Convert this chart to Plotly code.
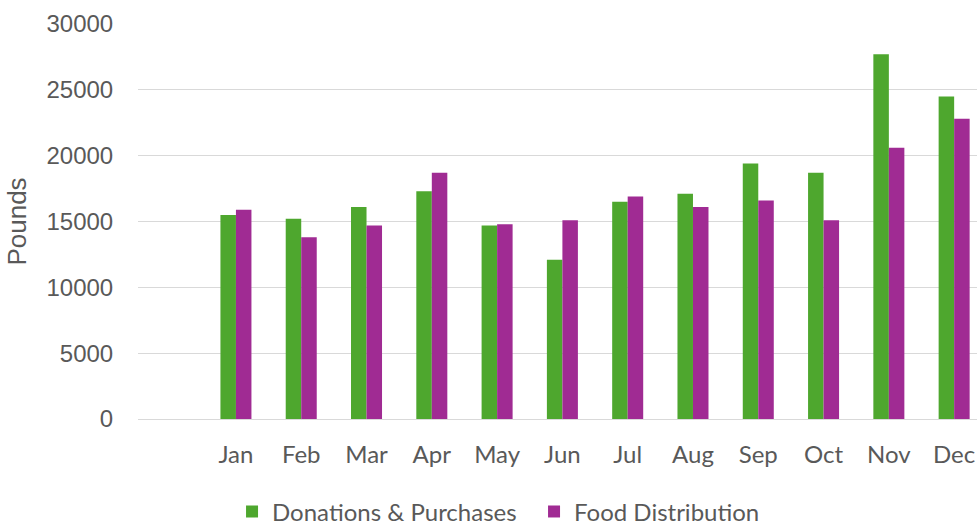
import plotly.graph_objects as go

months = ["\u200b", "Jan", "Feb", "Mar", "Apr", "May", "Jun", "Jul", "Aug", "Sep", "Oct", "Nov", "Dec"]
donations = [None, 15500, 15200, 16100, 17300, 14700, 12100, 16500, 17100, 19400, 18700, 27700, 24500]
distribution = [None, 15900, 13800, 14700, 18700, 14800, 15100, 16900, 16100, 16600, 15100, 20600, 22800]
y_ticks = [0, 5000, 10000, 15000, 20000, 25000, 30000]

GREEN = "#4EA72E"
PURPLE = "#A02B93"
LABEL_FONT = "Lato, sans-serif"
NUM_FONT = "Liberation Sans, Arial, sans-serif"

fig = go.Figure()
fig.add_trace(go.Bar(x=months, y=donations, name="Donations & Purchases",
                     marker=dict(color=GREEN, line=dict(width=0))))
fig.add_trace(go.Bar(x=months, y=distribution, name="Food Distribution",
                     marker=dict(color=PURPLE, line=dict(width=0))))

fig.update_layout(
    width=977, height=525,
    margin=dict(l=138, r=0, t=24, b=106),
    paper_bgcolor="white", plot_bgcolor="white",
    barmode="group", bargap=0.525, bargroupgap=0,
    showlegend=True,
    legend=dict(orientation="h", xref="container", yref="container",
                x=0.2375, y=0.025, xanchor="left", yanchor="middle",
                font=dict(family=LABEL_FONT, size=24, color="#595959"),
                itemwidth=30, tracegroupgap=0,
                entrywidth=257, entrywidthmode="pixels"),
)
fig.update_xaxes(
    type="category", categoryorder="array", categoryarray=months,
    range=[-0.5, 12.35],
    showgrid=False, showline=False, zeroline=False,
    ticks="outside", ticklen=14, tickcolor="rgba(0,0,0,0)",
    tickfont=dict(family=LABEL_FONT, size=24, color="#595959"),
)
fig.update_yaxes(
    range=[0, 30000], tickvals=y_ticks, ticktext=[str(v) for v in y_ticks],
    showgrid=True, gridcolor="#D9D9D9", gridwidth=1.3,
    zeroline=True, zerolinecolor="#D9D9D9", zerolinewidth=1.3,
    showline=False, ticks="outside", ticklen=19, tickcolor="rgba(0,0,0,0)",
    tickfont=dict(family=NUM_FONT, size=24, color="#595959"),
    title=dict(text="Pounds", standoff=12,
               font=dict(family=NUM_FONT, size=26, color="#595959")),
)

fig.write_html("out.html", config={"displayModeBar": False},
               post_script="document.body.style.margin='0';document.body.style.overflow='hidden';")
